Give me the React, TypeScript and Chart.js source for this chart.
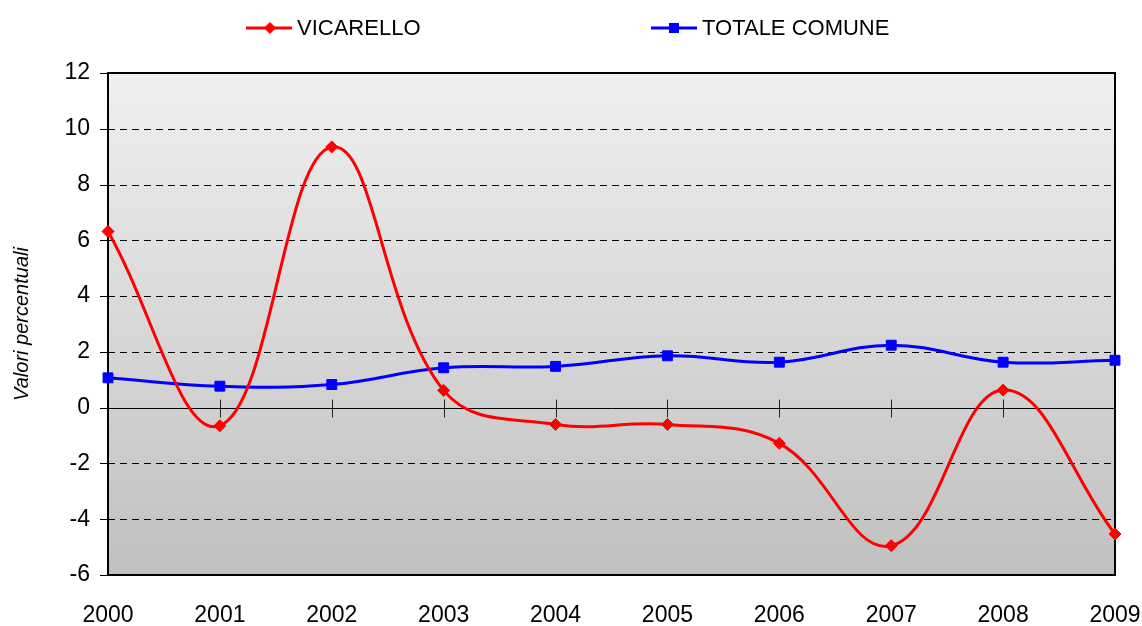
import React, { useEffect, useRef } from "react";
import { Chart, registerables } from "chart.js";

Chart.register(...registerables);

const years = ["2000", "2001", "2002", "2003", "2004", "2005", "2006", "2007", "2008", "2009"];
const vicarello = [6.32, -0.65, 9.35, 0.62, -0.6, -0.6, -1.28, -4.95, 0.63, -4.53];
const totaleComune = [1.07, 0.77, 0.83, 1.43, 1.48, 1.86, 1.63, 2.24, 1.63, 1.7];
const yMin = -6;
const yMax = 12;
const yStep = 2;

const FONT = "Arial, 'Liberation Sans', sans-serif";

const plotPlugin = {
  id: "plotDecor",
  beforeDatasetsDraw(chart: any) {
    const { ctx, chartArea } = chart;
    const { left, right, top, bottom } = chartArea;
    const xs = chart.scales.x;
    const ys = chart.scales.y;
    ctx.save();
    const g = ctx.createLinearGradient(0, top, 0, bottom);
    g.addColorStop(0, "#f0f0f0");
    g.addColorStop(1, "#c0c0c0");
    ctx.fillStyle = g;
    ctx.fillRect(left, top, right - left, bottom - top);

    ctx.strokeStyle = "#000";
    ctx.lineWidth = 1;
    for (let v = yMin; v <= yMax; v += yStep) {
      const y = Math.round(ys.getPixelForValue(v)) + 0.5;
      if (v !== 0 && v !== yMin && v !== yMax) {
        ctx.setLineDash([7, 5]);
        ctx.beginPath();
        ctx.moveTo(left, y);
        ctx.lineTo(right, y);
        ctx.stroke();
      }
      ctx.setLineDash([]);
      ctx.beginPath();
      ctx.moveTo(left - 8, y);
      ctx.lineTo(left, y);
      ctx.stroke();
    }
    const y0 = Math.round(ys.getPixelForValue(0)) + 0.5;
    ctx.setLineDash([]);
    ctx.beginPath();
    ctx.moveTo(left, y0);
    ctx.lineTo(right, y0);
    ctx.stroke();
    ctx.strokeStyle = "#222";
    for (let i = 1; i < years.length - 1; i++) {
      const x = Math.round(xs.getPixelForValue(i)) + 0.5;
      ctx.beginPath();
      ctx.moveTo(x, y0 - 9);
      ctx.lineTo(x, y0 + 9);
      ctx.stroke();
    }
    ctx.strokeStyle = "#000";
    ctx.lineWidth = 2;
    ctx.strokeRect(left, top, right - left, bottom - top);
    ctx.restore();
  },
};

function LegendItem(props: { left: number; color: string; marker: "diamond" | "square"; label: string }) {
  const { left, color, marker, label } = props;
  return (
    <div style={{ position: "absolute", left, top: 16, height: 24, display: "flex", alignItems: "center" }}>
      <svg width={48} height={24} style={{ display: "block" }}>
        <line x1={0} y1={12} x2={46} y2={12} stroke={color} strokeWidth={3} />
        {marker === "diamond" ? (
          <polygon points="24,6 30,12 24,18 18,12" fill={color} />
        ) : (
          <rect x={18} y={7} width={10} height={10} fill={color} />
        )}
      </svg>
      <span style={{ fontFamily: FONT, fontSize: 22, color: "#000", marginLeft: 3, lineHeight: "24px", whiteSpace: "nowrap" }}>
        {label}
      </span>
    </div>
  );
}

export default function App() {
  const ref = useRef<HTMLCanvasElement | null>(null);
  useEffect(() => {
    if (!ref.current) return;
    const chart = new Chart(ref.current, {
      type: "line",
      data: {
        labels: years,
        datasets: [
          {
            label: "VICARELLO",
            data: vicarello,
            borderColor: "#ff0000",
            backgroundColor: "#ff0000",
            borderWidth: 3,
            pointStyle: "rectRot",
            pointRadius: 6,
            pointBorderWidth: 1,
            pointBackgroundColor: "#ff0000",
            pointBorderColor: "#ff0000",
            tension: 0.4,
            clip: false as any,
          },
          {
            label: "TOTALE COMUNE",
            data: totaleComune,
            borderColor: "#0000ff",
            backgroundColor: "#0000ff",
            borderWidth: 3,
            pointStyle: "rect",
            pointRadius: 7,
            pointBorderWidth: 1,
            pointBackgroundColor: "#0000ff",
            pointBorderColor: "#0000ff",
            tension: 0.4,
            clip: false as any,
          },
        ],
      },
      options: {
        animation: false,
        responsive: false,
        maintainAspectRatio: false,
        layout: { padding: { top: 73, right: 27, bottom: 0, left: 0 } },
        plugins: { legend: { display: false }, tooltip: { enabled: false } },
        scales: {
          x: {
            type: "category",
            offset: false,
            grid: { display: false, drawTicks: false },
            border: { display: false },
            ticks: {
              autoSkip: false,
              maxRotation: 0,
              padding: 27,
              color: "#000",
              font: { family: FONT, size: 23 },
            },
            afterFit: (s: any) => {
              s.height = 51;
              s.paddingLeft = 0;
              s.paddingRight = 0;
            },
          },
          y: {
            min: yMin,
            max: yMax,
            grid: { display: false, drawTicks: false },
            border: { display: false },
            ticks: {
              stepSize: yStep,
              padding: 18,
              color: "#000",
              font: { family: FONT, size: 23 },
            },
            title: {
              display: true,
              text: "Valori percentuali",
              color: "#000",
              font: { family: FONT, size: 20, style: "italic" },
              padding: { top: 10, bottom: 0 },
            },
            afterFit: (s: any) => {
              s.width = 108;
              s.paddingTop = 0;
              s.paddingBottom = 0;
            },
          },
        },
      },
      plugins: [plotPlugin],
    });
    return () => chart.destroy();
  }, []);

  return (
    <div style={{ position: "absolute", left: 0, top: 0, width: 1142, height: 626, background: "#fff" }}>
      <canvas ref={ref} width={1142} height={626} style={{ display: "block" }} />
      <LegendItem left={246} color="#ff0000" marker="diamond" label="VICARELLO" />
      <LegendItem left={651} color="#0000ff" marker="square" label="TOTALE COMUNE" />
    </div>
  );
}
